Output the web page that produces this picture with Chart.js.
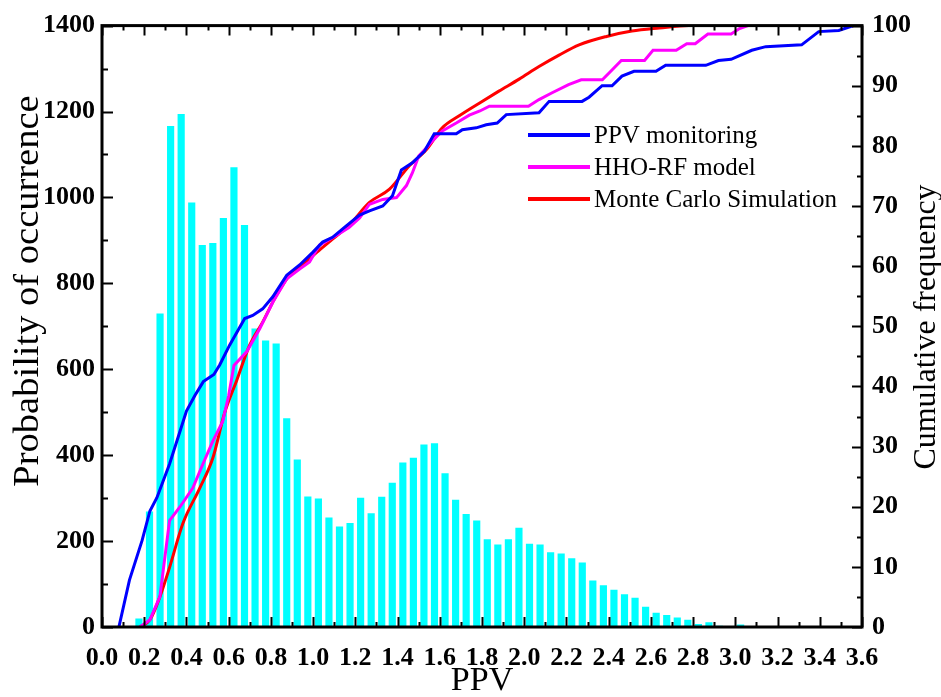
<!DOCTYPE html>
<html>
<head>
<meta charset="utf-8">
<title>PPV distribution</title>
<script src="https://cdn.jsdelivr.net/npm/chart.js@4.4.0/dist/chart.umd.min.js"></script>
<style>
    html, body { margin: 0; padding: 0; background: #fff; }
    #wrap { width: 941px; height: 697px; }
</style>
</head>
<body>
<div id="wrap"><canvas id="ppv-chart" width="941" height="697"></canvas></div>
<script>
// Histogram: bin centres (PPV) and probability of occurrence
var binCenters = [0.175, 0.225, 0.275, 0.325, 0.375, 0.425, 0.475, 0.525, 0.575, 0.625,
    0.675, 0.725, 0.775, 0.825, 0.875, 0.925, 0.975, 1.025, 1.075, 1.125,
    1.175, 1.225, 1.275, 1.325, 1.375, 1.425, 1.475, 1.525, 1.575, 1.625,
    1.675, 1.725, 1.775, 1.825, 1.875, 1.925, 1.975, 2.025, 2.075, 2.125,
    2.175, 2.225, 2.275, 2.325, 2.375, 2.425, 2.475, 2.525, 2.575, 2.625,
    2.675, 2.725, 2.775, 2.825, 2.875, 2.925, 2.975, 3.025];
var occurrence = [20, 269, 730, 1166, 1194, 988, 889, 894, 952, 1070,
    936, 695, 667, 660, 486, 390, 304, 299, 255, 234,
    242, 301, 265, 303, 336, 383, 394, 425, 428, 358,
    296, 263, 248, 204, 192, 204, 231, 194, 192, 174,
    171, 160, 150, 108, 97, 87, 76, 68, 47, 33,
    28, 22, 17, 7, 11, 3, 2, 6];

// Cumulative frequency curves
var monitorX = [0.08, 0.13, 0.19, 0.227, 0.26, 0.32, 0.37, 0.40, 0.44, 0.48,
    0.53, 0.558, 0.605, 0.676, 0.714, 0.761, 0.809, 0.875, 0.936, 0.998,
    1.045, 1.092, 1.15, 1.22, 1.267, 1.33, 1.376, 1.418, 1.47, 1.527,
    1.574, 1.678, 1.707, 1.773, 1.82, 1.872, 1.915, 2.07, 2.118, 2.274,
    2.307, 2.369, 2.416, 2.463, 2.52, 2.624, 2.67, 2.86, 2.92, 2.98,
    3.078, 3.144, 3.314, 3.395, 3.49, 3.56];
var monitorY = [0, 7.8, 14.4, 19.3, 21.5, 27.1, 32.6, 35.9, 38.5, 40.8,
    42, 43.6, 46.9, 51.3, 51.8, 52.9, 54.9, 58.5, 60.2, 62.3,
    64.0, 64.8, 66.5, 68.5, 69.2, 70.0, 71.7, 76.0, 77.2, 79.1,
    82.0, 82.0, 82.7, 83.0, 83.5, 83.8, 85.2, 85.5, 87.4, 87.4,
    88.1, 90.0, 90.0, 91.6, 92.4, 92.4, 93.4, 93.4, 94.2, 94.4,
    95.9, 96.5, 96.8, 99.0, 99.2, 100];

var hhoX = [0.18, 0.227, 0.274, 0.32, 0.37, 0.43, 0.478, 0.525, 0.572, 0.6,
    0.625, 0.686, 0.747, 0.809, 0.875, 0.936, 0.983, 1.03, 1.11, 1.17,
    1.22, 1.267, 1.33, 1.395, 1.442, 1.47, 1.50, 1.537, 1.565, 1.612,
    1.678, 1.74, 1.79, 1.835, 2.02, 2.07, 2.13, 2.21, 2.27, 2.37,
    2.41, 2.46, 2.57, 2.61, 2.72, 2.77, 2.81, 2.87, 2.98, 3.02, 3.06];
var hhoY = [0, 1.2, 5, 17.7, 20, 23.1, 27.1, 30.9, 34.2, 38.5,
    43.5, 45.8, 49.6, 54, 57.9, 59.5, 60.7, 63.5, 65.1, 66.4,
    68, 70.3, 71.1, 71.4, 73.4, 75.5, 78.3, 79.7, 80.8, 82.5,
    83.8, 85.1, 85.8, 86.6, 86.6, 87.7, 88.8, 90.2, 91, 91,
    92.4, 94.2, 94.2, 95.9, 95.9, 97, 97, 98.6, 98.6, 99.5, 100];

var monteX = [0.18, 0.227, 0.274, 0.32, 0.383, 0.463, 0.525, 0.58, 0.638, 0.70,
    0.761, 0.827, 0.889, 0.95, 1.017, 1.092, 1.17, 1.267, 1.362, 1.456,
    1.537, 1.612, 1.692, 1.787, 1.88, 1.976, 2.07, 2.165, 2.26, 2.39,
    2.51, 2.64, 2.78, 3.06];
var monteY = [0, 1.2, 5, 9.9, 17.2, 23.1, 28.1, 35.5, 41, 46.9,
    50.7, 55.2, 58.5, 60.2, 62.3, 64.5, 66.8, 70.6, 72.8, 76.7,
    79.4, 83, 85, 87.1, 89.1, 91.1, 93.2, 95.1, 96.8, 98.2,
    99.1, 99.6, 100, 100];

var serif = "'Liberation Serif', 'Times New Roman', serif";
var tickFont = { family: serif, size: 26, weight: 'bold' };

function toPoints(xs, ys) {
    return xs.map(function (x, i) { return {x: x, y: ys[i]}; });
}

// Frame, inward ticks, axis titles and legend
var framePlugin = {
    id: 'frame',
    afterDraw: function (chart) {
        var ctx = chart.ctx;
        var a = chart.chartArea;
        var sx = chart.scales.x, sy = chart.scales.y, sy1 = chart.scales.y1;
        var i, p, len;

        ctx.save();
        ctx.strokeStyle = '#000';
        ctx.lineWidth = 2;
        ctx.beginPath();
        for (i = 0; i <= 36; i++) {
            p = Math.round(sx.getPixelForValue(i / 10)) + 0.5;
            len = (i % 2 === 0) ? 10 : 5;
            ctx.moveTo(p, a.bottom); ctx.lineTo(p, a.bottom - len);
            ctx.moveTo(p, a.top); ctx.lineTo(p, a.top + len);
        }
        for (i = 0; i <= 14; i++) {
            p = Math.round(sy.getPixelForValue(i * 100)) + 0.5;
            len = (i % 2 === 0) ? 11 : 6;
            ctx.moveTo(a.left, p); ctx.lineTo(a.left + len, p);
        }
        for (i = 0; i <= 20; i++) {
            p = Math.round(sy1.getPixelForValue(i * 5)) + 0.5;
            len = (i % 2 === 0) ? 10 : 5;
            ctx.moveTo(a.right, p); ctx.lineTo(a.right - len, p);
        }
        ctx.stroke();

        ctx.lineWidth = 3;
        ctx.strokeRect(a.left, a.top, a.right - a.left, a.bottom - a.top);

        // axis titles
        ctx.fillStyle = '#000';
        ctx.textAlign = 'center';
        ctx.textBaseline = 'middle';
        ctx.font = '34px ' + serif;
        ctx.fillText('PPV', (a.left + a.right) / 2, 681);

        ctx.save();
        ctx.translate(29, 291);
        ctx.rotate(-Math.PI / 2);
        ctx.scale(1.1, 1);
        ctx.font = '35px ' + serif;
        ctx.fillText('Probability of occurrence', 0, 0);
        ctx.restore();

        ctx.save();
        ctx.translate(927, 327);
        ctx.rotate(-Math.PI / 2);
        ctx.font = '32px ' + serif;
        ctx.fillText('Cumulative frequency', 0, 0);
        ctx.restore();

        // legend
        ctx.textAlign = 'left';
        ctx.font = '25px ' + serif;
        var row = 0;
        chart.data.datasets.forEach(function (ds) {
            if (ds.type !== 'line') return;
            var y = 135 + row * 32;
            ctx.strokeStyle = ds.borderColor;
            ctx.lineWidth = 4;
            ctx.beginPath();
            ctx.moveTo(528, y); ctx.lineTo(590, y);
            ctx.stroke();
            ctx.fillText(ds.label, 594, y + 1);
            row++;
        });
        ctx.restore();
    }
};

var ctx = document.getElementById('ppv-chart').getContext('2d');
var myChart = new Chart(ctx, {
    type: 'bar',
    data: {
        datasets: [{
                type: 'line',
                label: 'PPV monitoring',
                data: toPoints(monitorX, monitorY),
                borderColor: '#0000ff',
                borderWidth: 3,
                pointRadius: 0,
                yAxisID: 'y1',
                order: 1
            },
            {
                type: 'line',
                label: 'HHO-RF model',
                data: toPoints(hhoX, hhoY),
                borderColor: '#ff00ff',
                borderWidth: 3,
                pointRadius: 0,
                yAxisID: 'y1',
                order: 2
            },
            {
                type: 'line',
                label: 'Monte Carlo Simulation',
                data: toPoints(monteX, monteY),
                borderColor: '#ff0000',
                borderWidth: 3,
                pointRadius: 0,
                cubicInterpolationMode: 'monotone',
                yAxisID: 'y1',
                order: 3
            },
            {
                type: 'bar',
                label: 'Probability of occurrence',
                data: toPoints(binCenters, occurrence),
                backgroundColor: '#00ffff',
                barPercentage: 0.68,
                categoryPercentage: 1,
                yAxisID: 'y',
                order: 4
            }
        ]
    },
    options: {
        responsive: false,
        animation: false,
        devicePixelRatio: 1,
        layout: { padding: { top: 22, left: 0, right: 0, bottom: 0 } },
        plugins: {
            legend: { display: false },
            tooltip: { enabled: false }
        },
        scales: {
            x: {
                type: 'linear',
                offset: false,
                min: 0,
                max: 3.6,
                grid: { display: false, drawTicks: false },
                border: { display: false },
                ticks: {
                    stepSize: 0.2,
                    autoSkip: false,
                    maxRotation: 0,
                    padding: 16,
                    color: '#000',
                    font: tickFont,
                    callback: function (v) { return v.toFixed(1); }
                },
                afterFit: function (s) { s.height = 70; }
            },
            y: {
                position: 'left',
                min: 0,
                max: 1400,
                grid: { display: false, drawTicks: false },
                border: { display: false },
                ticks: {
                    stepSize: 200,
                    padding: 7,
                    color: '#000',
                    font: tickFont,
                    callback: function (v) { return String(v); }
                },
                afterFit: function (s) { s.width = 102; }
            },
            y1: {
                position: 'right',
                min: 0,
                max: 100,
                grid: { display: false, drawTicks: false },
                border: { display: false },
                ticks: {
                    stepSize: 10,
                    padding: 10,
                    color: '#000',
                    font: tickFont,
                    callback: function (v) { return String(v); }
                },
                afterFit: function (s) { s.width = 79; }
            }
        }
    },
    plugins: [framePlugin]
});
</script>
</body>
</html>
